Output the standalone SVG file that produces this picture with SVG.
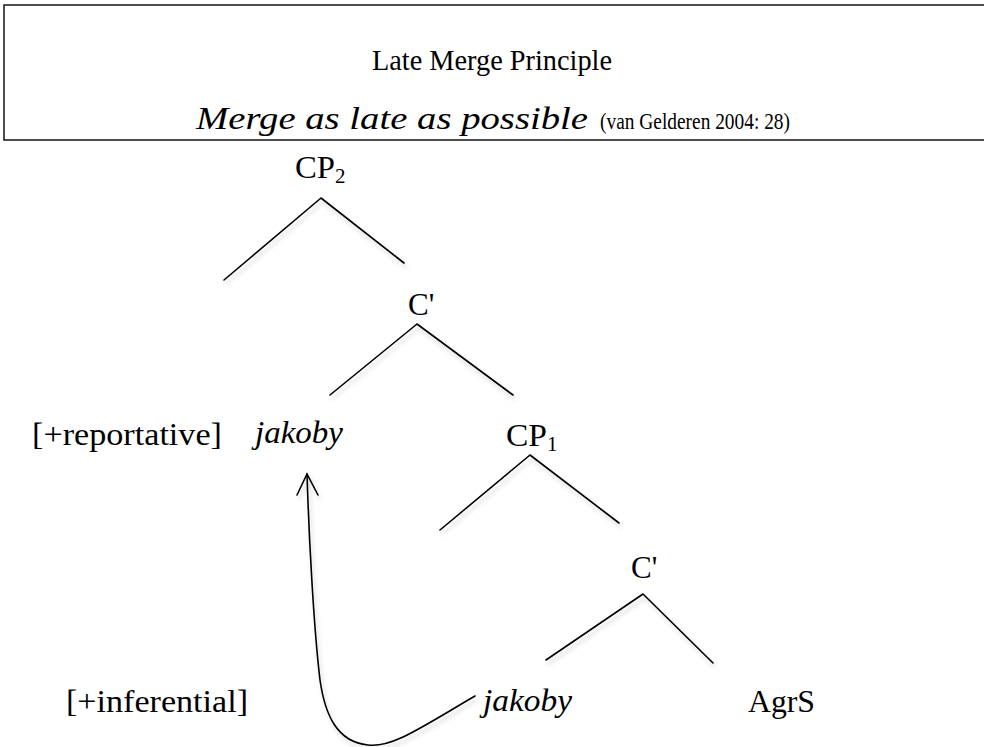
<svg xmlns="http://www.w3.org/2000/svg" width="984" height="747" viewBox="0 0 984 747">
<style>
text{font-family:"Liberation Serif","Times New Roman",serif;fill:#000}
.n{font-size:31px}
.i{font-style:italic}
.sub{font-size:21px}
.edge{stroke:#000;stroke-width:1.6;fill:none;stroke-linecap:round}
</style>
<defs>
<filter id="sh" filterUnits="userSpaceOnUse" x="0" y="0" width="984" height="747">
<feDropShadow dx="2" dy="4" stdDeviation="2" flood-color="#000" flood-opacity="0.18"/>
</filter>
</defs>
<g id="header">
<rect x="4" y="5" width="1000" height="135" fill="#fff" stroke="#222" stroke-width="1.6"/>
<text x="492" y="70" text-anchor="middle" font-size="30" textLength="240" lengthAdjust="spacingAndGlyphs">Late Merge Principle</text>
<text y="129"><tspan x="196" class="i" font-size="31" textLength="392" lengthAdjust="spacingAndGlyphs">Merge as late as possible</tspan><tspan x="600" font-size="23" textLength="190" lengthAdjust="spacingAndGlyphs">(van Gelderen 2004: 28)</tspan></text>
</g>
<g id="connectors" filter="url(#sh)">
<path class="edge" d="M321,198 L224,280 M321,198 L404,263"/>
<path class="edge" d="M417,324 L330,395 M417,324 L513,395"/>
<path class="edge" d="M530,455 L440,530 M530,455 L619,523"/>
<path class="edge" d="M643,594 L546,660 M643,594 L713,663"/>
<path class="edge" d="M475,696 C420,728 392,748 368,745 C337,742 325,715 320,680 C314,630 309,540 307,474"/>
<polyline class="edge" points="297,495 307,474 318,495"/>
</g>
<g id="node-cp2"><text class="n" x="295" y="178" textLength="40" lengthAdjust="spacingAndGlyphs">CP</text><text class="sub" x="335" y="183">2</text></g>
<g id="node-c1"><text class="n" x="408" y="315">C'</text></g>
<g id="node-reportative"><text class="n" x="32" y="445" textLength="190" lengthAdjust="spacingAndGlyphs">[+reportative]</text></g>
<g id="node-jakoby1"><text class="n i" x="255" y="443" textLength="88" lengthAdjust="spacingAndGlyphs">jakoby</text></g>
<g id="node-cp1"><text class="n" x="506" y="446" textLength="41" lengthAdjust="spacingAndGlyphs">CP</text><text class="sub" x="547" y="451">1</text></g>
<g id="node-c2"><text class="n" x="631" y="578">C'</text></g>
<g id="node-inferential"><text class="n" x="66" y="712" textLength="182" lengthAdjust="spacingAndGlyphs">[+inferential]</text></g>
<g id="node-jakoby2"><text class="n i" x="483" y="711" textLength="89" lengthAdjust="spacingAndGlyphs">jakoby</text></g>
<g id="node-agrs"><text class="n" x="748" y="712" textLength="67" lengthAdjust="spacingAndGlyphs">AgrS</text></g>
</svg>
